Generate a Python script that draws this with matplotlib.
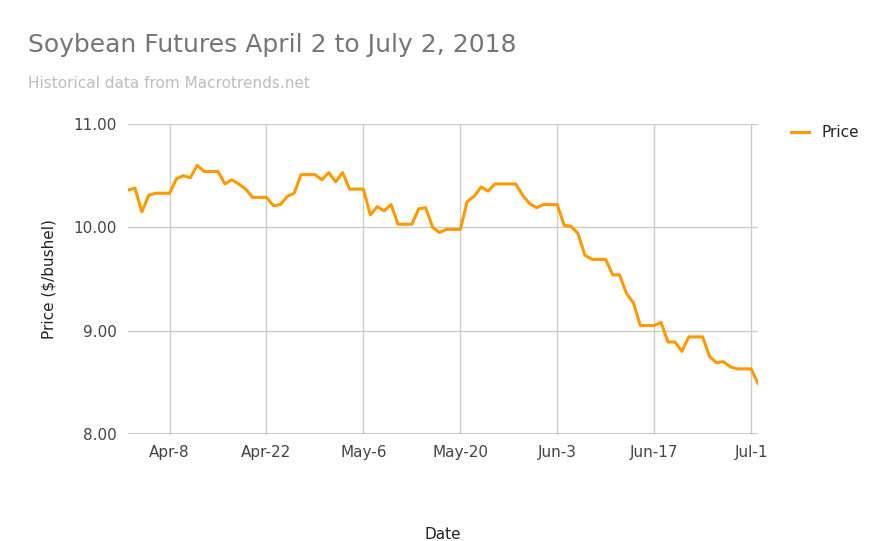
import matplotlib
matplotlib.use("Agg")
import matplotlib.pyplot as plt
import matplotlib.dates as mdates
import pandas as pd

dates = pd.date_range("2018-04-02", "2018-07-02", freq="D")
apr = [10.36,10.38,10.15,10.31,10.33,10.33,10.33,10.47,10.50,10.48,10.60,10.54,10.54,10.54,
       10.42,10.46,10.42,10.37,10.29,10.29,10.29,10.21,10.22,10.30,10.33,10.51,10.51,10.51,10.46]
may = [10.53,10.44,10.53,10.37,10.37,10.37,10.12,10.20,10.16,10.22,10.03,10.03,10.03,10.18,
       10.19,10.00,9.95,9.98,9.98,9.98,10.25,10.30,10.39,10.35,10.42,10.42,10.42,10.42,10.31,10.23,10.19]
jun = [10.22,10.22,10.22,10.02,10.01,9.94,9.73,9.69,9.69,9.69,9.54,9.54,9.36,9.27,9.05,9.05,9.05,
       9.08,8.89,8.89,8.80,8.94,8.94,8.94,8.75,8.69,8.70,8.65,8.63,8.63]
jul = [8.63,8.49]
prices = apr + may + jun + jul
tick_dates = pd.to_datetime(["2018-04-08","2018-04-22","2018-05-06","2018-05-20","2018-06-03","2018-06-17","2018-07-01"])
tick_labels = ["Apr-8","Apr-22","May-6","May-20","Jun-3","Jun-17","Jul-1"]
y_ticks = [8, 9, 10, 11]

fig = plt.figure(figsize=(8.8, 5.41), dpi=100)
ax = fig.add_axes([128/880, 1-434/541, 630/880, 310/541])
ax.plot(dates, prices, color="#ff9900", lw=2.2, label="Price")
ax.set_xlim(dates[0], dates[-1])
ax.set_ylim(8, 11)
ax.set_xticks(tick_dates)
ax.set_xticklabels(tick_labels)
ax.set_yticks(y_ticks)
ax.set_yticklabels([f"{v:.2f}" for v in y_ticks])
ax.grid(True, color="#cccccc", lw=1)
ax.set_axisbelow(True)
for s in ax.spines.values():
    s.set_visible(False)
ax.axhline(8, color="#333333", lw=1)
ax.tick_params(length=0, labelsize=11, colors="#444444", pad=8)
ax.set_ylabel("Price ($/bushel)", fontsize=11, color="#222222", labelpad=12)
ax.set_xlabel("Date", fontsize=11, color="#222222", labelpad=48)
fig.text(28/880, 1-45/541, "Soybean Futures April 2 to July 2, 2018", fontsize=18, color="#757575", va="center")
fig.text(28/880, 1-84/541, "Historical data from Macrotrends.net", fontsize=11, color="#bdbdbd", va="center")
ax.legend(loc="upper left", bbox_to_anchor=(1.03, 1.04), frameon=False, fontsize=11,
          handlelength=1.2, labelcolor="#222222")
fig.savefig("out.png", dpi=100)
